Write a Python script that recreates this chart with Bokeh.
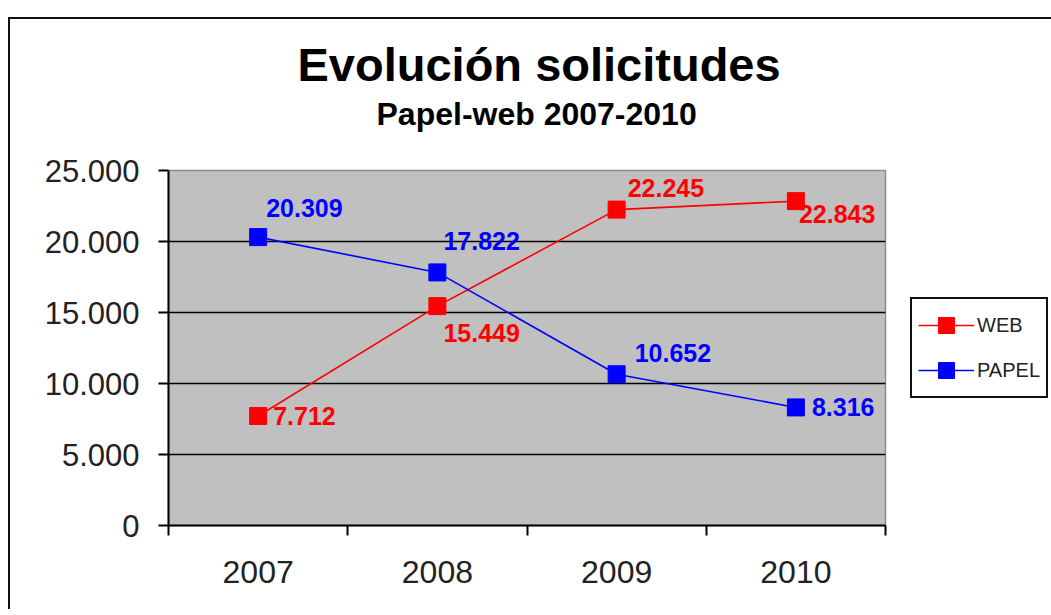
from bokeh.plotting import figure
from bokeh.models import (ColumnDataSource, FixedTicker, Legend, LegendItem,
                          LabelSet, Title, Spacer, Range1d)
from bokeh.layouts import column, row
from bokeh.embed import file_html
from bokeh.resources import INLINE
from bokeh.core.properties import value

# ---- data ----
years = ["2007", "2008", "2009", "2010"]
web = [7712, 15449, 22245, 22843]
papel = [20309, 17822, 10652, 8316]
y_ticks = [0, 5000, 10000, 15000, 20000, 25000]
y_tick_labels = ["0", "5.000", "10.000", "15.000", "20.000", "25.000"]

# ---- styling (label offsets in px) ----
web_dx = [15, 6, 11, 3]
web_dy = [0, -27, 22, -13]
papel_dx = [8, 6, 18, 16]
papel_dy = [29, 31, 21, 0]

FONT = "Liberation Sans"
RED = "#FF0000"
BLUE = "#0000FF"


def fmt(v):
    return f"{v:,}".replace(",", ".")


xs = list(range(len(years)))

web_src = ColumnDataSource(dict(x=xs, y=web, lbl=[fmt(v) for v in web],
                                dx=web_dx, dy=web_dy))
pap_src = ColumnDataSource(dict(x=xs, y=papel, lbl=[fmt(v) for v in papel],
                                dx=papel_dx, dy=papel_dy))

p = figure(frame_width=715, frame_height=353,
           x_range=Range1d(-0.5, len(years) - 0.5), y_range=Range1d(0, 25000),
           output_backend="svg", toolbar_location=None, title=None,
           min_border_left=158, min_border_right=166, min_border_top=151,
           min_border_bottom=86)

p.background_fill_color = "#C0C0C0"
p.border_fill_color = "white"
p.outline_line_color = "#8a8a8a"
p.outline_line_width = 1.5
p.styles = {"border-left": "2px solid #111111", "border-top": "2px solid #111111"}

# titles (added from the frame outward)
p.add_layout(Title(text=" ", text_font_size="33px", text_font=FONT, standoff=0), "above")
p.add_layout(Title(text="Papel-web 2007-2010", text_font_size="32px", text_font_style="bold",
                   text_font=FONT, align="left", offset=208, standoff=0,
                   text_color="black"), "above")
p.add_layout(Title(text="Evolución solicitudes", text_font_size="47px", text_font_style="bold",
                   text_font=FONT, align="left", offset=129, standoff=6,
                   text_color="black"), "above")

# axes
p.xaxis.ticker = FixedTicker(ticks=xs, minor_ticks=[i - 0.5 for i in range(len(years) + 1)])
p.xaxis.major_label_overrides = {i: y for i, y in zip(xs, years)}
p.xaxis.major_tick_line_color = None
p.xaxis.minor_tick_line_color = "black"
p.xaxis.minor_tick_line_width = 2
p.xaxis.minor_tick_out = 10
p.xaxis.minor_tick_in = 0
p.xaxis.major_label_standoff = 25
p.xaxis.major_label_text_font_size = "32px"

p.yaxis.ticker = FixedTicker(ticks=y_ticks, minor_ticks=[])
p.yaxis.major_label_overrides = {t: l for t, l in zip(y_ticks, y_tick_labels)}
p.yaxis.major_tick_line_color = "black"
p.yaxis.major_tick_line_width = 2
p.yaxis.major_tick_out = 10
p.yaxis.major_tick_in = 0
p.yaxis.major_label_standoff = 19
p.yaxis.major_label_text_font_size = "31px"

for ax in (p.xaxis, p.yaxis):
    ax.axis_line_color = "black"
    ax.axis_line_width = 2
    ax.major_label_text_font = FONT
    ax.major_label_text_color = "#222222"

p.xgrid.visible = False
p.ygrid.ticker = FixedTicker(ticks=y_ticks[1:-1])
p.ygrid.grid_line_color = "black"
p.ygrid.grid_line_width = 1.5

# series
wl = p.line("x", "y", source=web_src, line_color=RED, line_width=1.6)
ws = p.scatter("x", "y", source=web_src, marker="square", size=17,
               fill_color=RED, line_color=RED)
pl = p.line("x", "y", source=pap_src, line_color=BLUE, line_width=1.6)
ps = p.scatter("x", "y", source=pap_src, marker="square", size=17,
               fill_color=BLUE, line_color=BLUE)

for src, col in ((web_src, RED), (pap_src, BLUE)):
    p.add_layout(LabelSet(x="x", y="y", text="lbl", source=src,
                          x_offset="dx", y_offset="dy",
                          text_align="left", text_baseline="middle",
                          text_font=value(FONT), text_font_size="25px",
                          text_font_style="bold", text_color=col))

legend = Legend(items=[LegendItem(label="WEB", renderers=[wl, ws]),
                       LegendItem(label="PAPEL", renderers=[pl, ps])],
                location=(25, 127), orientation="vertical",
                margin=0, padding=6, spacing=5,
                glyph_width=56, glyph_height=40, label_height=40,
                label_standoff=3, label_width=60,
                label_text_font=FONT, label_text_font_size="20px",
                label_text_color="#222222",
                border_line_color="#111111", border_line_width=2,
                border_line_alpha=1.0,
                background_fill_color="white", background_fill_alpha=1)
p.add_layout(legend, "right")

layout = column(Spacer(height=17, width=10), row(Spacer(width=8, height=10), p))

open("out.html", "w").write(file_html(layout, INLINE))
